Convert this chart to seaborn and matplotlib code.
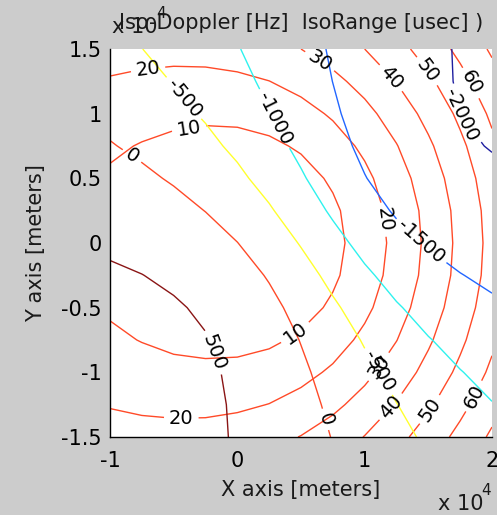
import numpy as np
import matplotlib
matplotlib.use("Agg")
import matplotlib.pyplot as plt
import seaborn as sns

# grid of ground positions (meters)
x_m = [-10000, -7500, -5000, -2500, 0, 2500, 5000, 7500, 10000, 12500, 15000, 17500, 20000]
y_m = [-15000, -12500, -10000, -7500, -5000, -2500, 0, 2500, 5000, 7500, 10000, 12500, 15000]

# Iso-Doppler field [Hz], rows follow y_m, columns follow x_m
doppler_hz = [
    [770, 726, 664, 579, 469, 331, 168, -13, -203, -390, -565, -724, -864],
    [762, 721, 661, 576, 460, 311, 130, -74, -286, -492, -680, -845, -986],
    [740, 702, 644, 559, 438, 275, 72, -158, -395, -619, -817, -985, -1123],
    [700, 663, 606, 519, 391, 213, -14, -273, -536, -776, -979, -1143, -1273],
    [637, 599, 539, 447, 309, 114, -140, -429, -713, -961, -1161, -1314, -1430],
    [551, 505, 436, 333, 181, -36, -315, -627, -922, -1167, -1352, -1487, -1586],
    [440, 382, 299, 178, 6, -232, -530, -850, -1141, -1370, -1535, -1650, -1730],
    [311, 236, 134, -7, -200, -452, -754, -1065, -1337, -1544, -1689, -1787, -1852],
    [169, 78, -42, -201, -407, -663, -952, -1239, -1486, -1673, -1804, -1890, -1947],
    [24, -82, -216, -385, -595, -840, -1106, -1364, -1586, -1757, -1878, -1960, -2013],
    [-117, -234, -376, -549, -752, -981, -1220, -1448, -1647, -1804, -1919, -2000, -2054],
    [-250, -372, -517, -687, -879, -1088, -1301, -1503, -1681, -1826, -1937, -2018, -2074],
    [-372, -496, -639, -801, -980, -1169, -1359, -1539, -1700, -1834, -1941, -2021, -2080],
]

# Iso-Range field [usec], rows follow y_m, columns follow x_m
range_usec = [
    [24.4, 23.6, 23.3, 23.7, 24.9, 27.1, 30.3, 34.7, 40.3, 47.0, 54.5, 62.8, 71.6],
    [19.4, 18.2, 17.6, 17.5, 18.4, 20.2, 23.4, 27.8, 33.6, 40.6, 48.5, 57.2, 66.4],
    [15.1, 13.6, 12.4, 12.0, 12.4, 14.0, 17.0, 21.5, 27.5, 34.8, 43.1, 52.2, 61.9],
    [11.6, 9.7, 8.1, 7.3, 7.3, 8.5, 11.4, 15.9, 22.2, 29.8, 38.6, 48.1, 58.2],
    [8.9, 6.7, 4.9, 3.6, 3.2, 4.2, 6.8, 11.4, 17.9, 26.0, 35.1, 45.0, 55.4],
    [7.3, 4.9, 2.8, 1.2, 0.6, 1.3, 3.8, 8.5, 15.2, 23.5, 32.9, 43.0, 53.6],
    [6.7, 4.2, 2.1, 0.4, -0.3, 0.3, 2.7, 7.4, 14.2, 22.6, 32.1, 42.4, 53.0],
    [7.3, 4.8, 2.7, 1.2, 0.5, 1.2, 3.7, 8.4, 15.1, 23.4, 32.8, 43.0, 53.6],
    [8.8, 6.6, 4.7, 3.5, 3.1, 4.0, 6.7, 11.3, 17.8, 25.8, 35.0, 44.9, 55.3],
    [11.4, 9.5, 8.0, 7.1, 7.1, 8.3, 11.1, 15.7, 21.9, 29.6, 38.4, 48.0, 58.0],
    [14.9, 13.4, 12.2, 11.7, 12.1, 13.7, 16.7, 21.2, 27.2, 34.5, 42.9, 52.0, 61.7],
    [19.2, 18.0, 17.3, 17.3, 18.1, 19.9, 23.1, 27.5, 33.3, 40.3, 48.2, 56.9, 66.2],
    [24.1, 23.4, 23.1, 23.4, 24.6, 26.7, 30.0, 34.4, 40.0, 46.7, 54.2, 62.5, 71.4],
]

doppler_levels = [-2000, -1500, -1000, -500, 0, 500]
range_levels = [10, 20, 30, 40, 50, 60, 70]

x_tick_labels = ["-1", "0", "1", "2"]
y_tick_labels = ["-1.5", "-1", "-0.5", "0", "0.5", "1", "1.5"]

# styling
doppler_colors = ["#1E1EA0", "#2266FF", "#2EF2EE", "#FFFF2E", "#FF4A28", "#8A1515"]
range_color = "#FF4A28"

# where the inline labels sit (in 1e4 m)
range_label_pos = [(-0.38, 0.89), (0.46, -0.70), (-0.70, 1.33), (-0.44, -1.37), (1.14, 0.18),
                   (0.63, 1.38), (1.10, -0.95), (1.19, 1.26), (1.21, -1.27), (1.48, 1.32),
                   (1.53, -1.30), (1.84, 1.24), (1.87, -1.19)]
doppler_label_pos = [(-0.20, -0.85), (-0.85, 0.64), (0.67, -1.37), (-0.42, 1.12), (1.10, -1.00),
                     (0.27, 0.95), (1.43, 0.00), (1.78, 1.00)]

sns.set_theme(style="white")
plt.rcParams["font.family"] = ["DejaVu Sans"]

fig = plt.figure(figsize=(4.97, 5.15), dpi=100, facecolor="#CCCCCC")
ax = fig.add_axes([110 / 497, 1 - 437 / 515, 382 / 497, 388 / 515])
ax.set_facecolor("white")

X, Y = np.meshgrid(x_m, y_m)
cs_r = ax.contour(X, Y, np.array(range_usec), levels=range_levels, colors=range_color, linewidths=1.0)
cs_d = ax.contour(X, Y, np.array(doppler_hz), levels=doppler_levels, colors=doppler_colors, linewidths=1.0)

ax.clabel(cs_r, fmt="%d", fontsize=14, colors="black", inline=True,
          manual=[(a * 1e4, b * 1e4) for a, b in range_label_pos])
ax.clabel(cs_d, fmt="%d", fontsize=14, colors="black", inline=True,
          manual=[(a * 1e4, b * 1e4) for a, b in doppler_label_pos])

ax.set_xlim(-10000, 20000)
ax.set_ylim(-15000, 15000)
ax.set_xticks([-10000, 0, 10000, 20000])
ax.set_xticklabels(x_tick_labels)
ax.set_yticks([-15000, -10000, -5000, 0, 5000, 10000, 15000])
ax.set_yticklabels(y_tick_labels)
ax.tick_params(axis="both", direction="in", length=5, width=1, colors="black", labelsize=15)
ax.tick_params(axis="y", pad=5.8)
ax.tick_params(axis="x", pad=10)
for side in ["top", "right"]:
    ax.spines[side].set_visible(False)
for side in ["left", "bottom"]:
    ax.spines[side].set_visible(True)
    ax.spines[side].set_color("black")
    ax.spines[side].set_linewidth(1.0)
ax.grid(False)

ax.set_xlabel("X axis [meters]", fontsize=15, color="#1a1a1a")
ax.xaxis.set_label_coords(0.5, (437 - 480) / 388)
ax.set_ylabel("Y axis [meters]", fontsize=15, color="#1a1a1a")
ax.yaxis.set_label_coords((46 - 110) / 382, 0.5)
ax.set_title("Iso-Doppler [Hz]  IsoRange [usec] )", fontsize=15, pad=14.4, color="#1a1a1a")

fig.text(112 / 497, 1 - 33 / 515, "x 10", fontsize=15, va="baseline", ha="left", color="#1a1a1a")
fig.text(156 / 497, 1 - 18 / 515, "4", fontsize=11, va="baseline", ha="left", color="#1a1a1a")
fig.text(438 / 497, 1 - 510 / 515, "x 10", fontsize=15, va="baseline", ha="left", color="#1a1a1a")
fig.text(481 / 497, 1 - 495 / 515, "4", fontsize=11, va="baseline", ha="left", color="#1a1a1a")

fig.savefig("out.png", dpi=100, facecolor=fig.get_facecolor())
